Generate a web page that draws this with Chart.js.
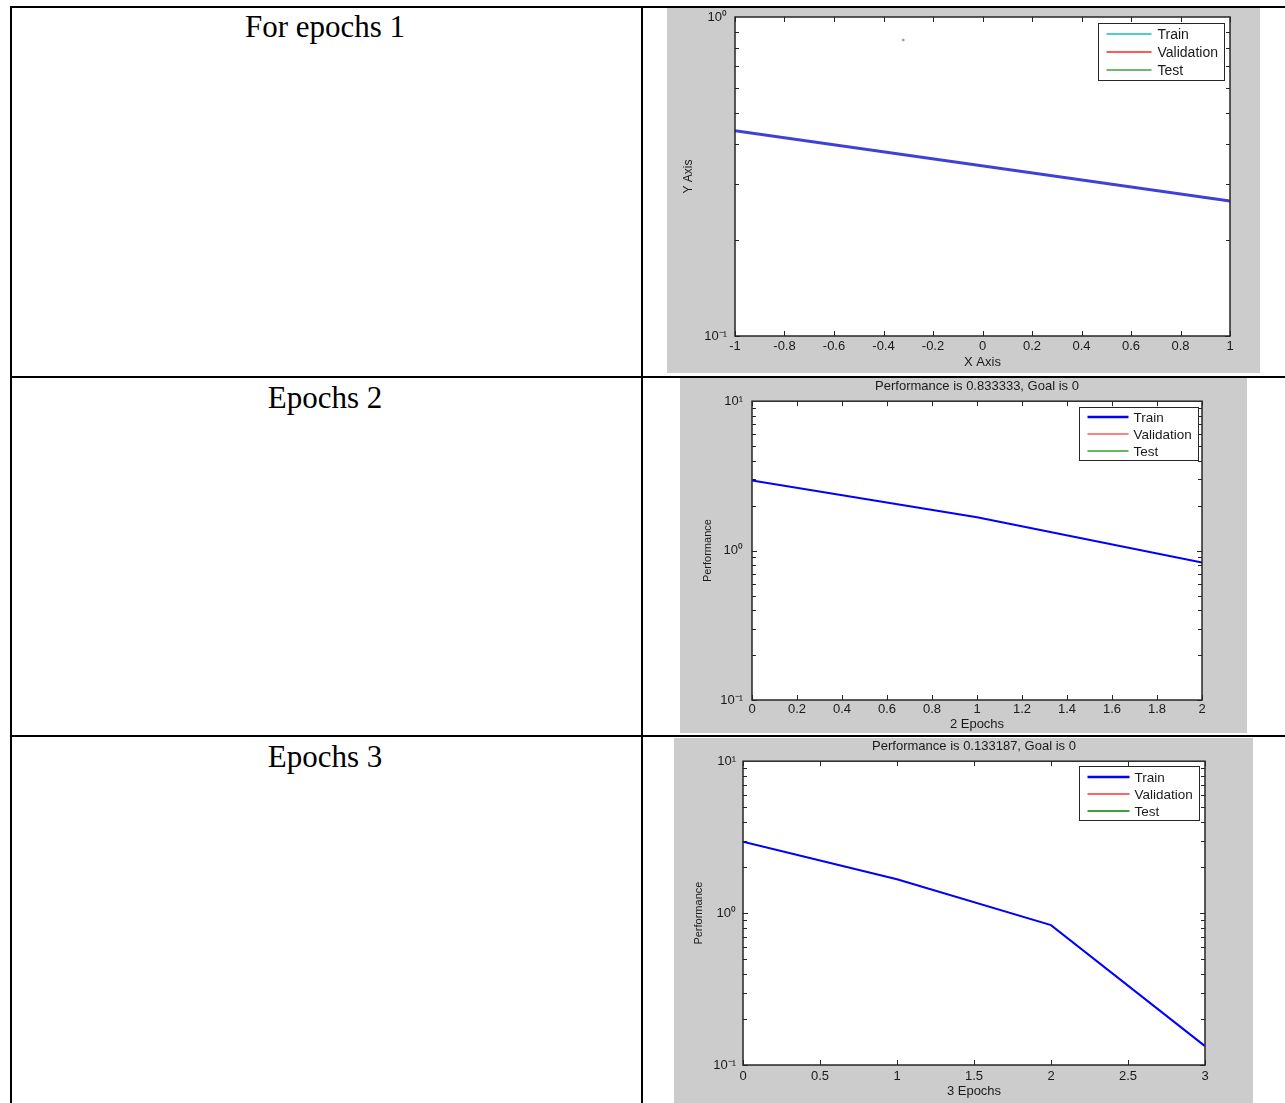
<!DOCTYPE html>
<html>
<head>
<meta charset="utf-8">
<title>Epochs</title>
<script src="https://cdn.jsdelivr.net/npm/chart.js@4.4.1/dist/chart.umd.min.js"></script>
<style>
  body { margin: 0; background: #fff; }
  #page { position: relative; width: 1285px; height: 1103px; overflow: hidden; background: #fff; }
  .rule { position: absolute; background: #000; }
  .cellText {
    position: absolute; left: 12px; width: 626px; text-align: center;
    font-family: "Liberation Serif", "Times New Roman", serif;
    font-size: 31px; line-height: 31px; color: #000;
  }
  canvas { position: absolute; background: #cccccc; }
</style>
</head>
<body>
<div id="page">
  <div class="rule" style="left:10px; top:6px; width:1275px; height:2px;"></div>
  <div class="rule" style="left:10px; top:376px; width:1275px; height:2px;"></div>
  <div class="rule" style="left:10px; top:735px; width:1275px; height:2px;"></div>
  <div class="rule" style="left:10px; top:6px; width:2px; height:1097px;"></div>
  <div class="rule" style="left:641px; top:6px; width:2px; height:1097px;"></div>

  <div class="cellText" style="top:11px;">For epochs 1</div>
  <div class="cellText" style="top:382px;">Epochs 2</div>
  <div class="cellText" style="top:741px;">Epochs 3</div>

  <canvas id="graficoEpochs1" width="593" height="365" style="left:667px; top:8px;"></canvas>
  <canvas id="graficoEpochs2" width="567" height="355" style="left:680px; top:378px;"></canvas>
  <canvas id="graficoEpochs3" width="579" height="365" style="left:674px; top:738px;"></canvas>
</div>

<script>
// values
const epochs1X = [-1, 1];
const output1Y = [0.44, 0.265];
const stray1X = [-0.32];
const stray1Y = [0.847];

const epochs2X = [0, 1, 2];
const train2Y = [2.95, 1.67, 0.833333];

const epochs3X = [0, 1, 2, 3];
const train3Y = [2.95, 1.67, 0.833333, 0.133187];

const legendLabels = ['Train', 'Validation', 'Test'];
const decades1 = [0.1, 1];
const decades23 = [0.1, 1, 10];

Chart.defaults.font.family = '"Liberation Sans", Arial, sans-serif';
Chart.defaults.color = '#1a1a1a';

const pts = (xs, ys) => xs.map((x, i) => ({ x: x, y: ys[i] }));

const sup = { '-': '\u207B', '0': '\u2070', '1': '\u00B9' };
const decadeLabel = (v) => '10' + String(Math.round(Math.log10(v))).split('').map(c => sup[c]).join('');
const plainLabel = (v) => String(parseFloat(Number(v).toFixed(2)));

// white axes box, inward ticks, frame
const matlabAxes = {
    id: 'matlabAxes',
    beforeDraw(chart) {
        const { ctx, chartArea: a } = chart;
        ctx.save();
        ctx.fillStyle = '#fff';
        ctx.fillRect(a.left, a.top, a.right - a.left, a.bottom - a.top);
        ctx.restore();
    },
    beforeDatasetsDraw(chart) {
        const { ctx, chartArea: a, scales } = chart;
        const x = scales.x, y = scales.y;
        ctx.save();
        ctx.strokeStyle = '#262626';
        ctx.lineWidth = 1;
        ctx.beginPath();
        x.ticks.forEach(t => {
            const px = Math.round(x.getPixelForValue(t.value)) + 0.5;
            ctx.moveTo(px, a.bottom); ctx.lineTo(px, a.bottom - 5);
            ctx.moveTo(px, a.top); ctx.lineTo(px, a.top + 5);
        });
        for (let d = y.min; d < y.max * 0.999; d *= 10) {
            for (let k = 1; k <= 9; k++) {
                const py = Math.round(y.getPixelForValue(d * k)) + 0.5;
                const len = k === 1 ? 5 : 4;
                ctx.moveTo(a.left, py); ctx.lineTo(a.left + len, py);
                ctx.moveTo(a.right, py); ctx.lineTo(a.right - len, py);
            }
        }
        ctx.stroke();
        ctx.restore();
    },
    afterDatasetsDraw(chart) {
        const { ctx, chartArea: a } = chart;
        ctx.save();
        ctx.strokeStyle = '#262626';
        ctx.lineWidth = 1.5;
        ctx.strokeRect(a.left, a.top, a.right - a.left, a.bottom - a.top);
        ctx.restore();
    }
};

// boxed legend inside the axes, top right
const matlabLegend = {
    id: 'matlabLegend',
    afterDatasetsDraw(chart, args, o) {
        const { ctx, chartArea: a } = chart;
        const items = chart.data.datasets.filter(ds => ds.inLegend);
        ctx.save();
        ctx.font = o.fontSize + 'px "Liberation Sans", Arial, sans-serif';
        const tw = Math.max(...items.map(ds => ctx.measureText(ds.label).width));
        const w = Math.round(8 + o.lineLen + o.gap + tw + 7);
        const h = o.height;
        const x0 = Math.round(a.right - o.right - w) + 0.5;
        const y0 = Math.round(a.top + o.top) + 0.5;
        ctx.fillStyle = '#fff';
        ctx.fillRect(x0, y0, w, h);
        ctx.strokeStyle = '#262626';
        ctx.lineWidth = 1;
        ctx.strokeRect(x0, y0, w, h);
        const pad = (h - items.length * o.rowH) / 2;
        items.forEach((ds, i) => {
            const cy = Math.round(y0 + pad + o.rowH * (i + 0.5));
            ctx.strokeStyle = ds.legendColor;
            ctx.lineWidth = ds.legendWidth;
            ctx.beginPath();
            ctx.moveTo(x0 + 8, cy);
            ctx.lineTo(x0 + 8 + o.lineLen, cy);
            ctx.stroke();
            ctx.fillStyle = '#1a1a1a';
            ctx.textBaseline = 'middle';
            ctx.fillText(ds.label, x0 + 8 + o.lineLen + o.gap, cy + 1);
        });
        ctx.restore();
    }
};

const legendSets = (colors, widths) => legendLabels.map((label, i) => ({
    label: label,
    data: [],
    borderColor: colors[i],
    legendColor: colors[i],
    legendWidth: widths[i],
    pointRadius: 0,
    inLegend: true
}));

const axisStyle = { grid: { display: false, drawTicks: false }, border: { display: false } };

// keep the plot box where it is, label overhang goes into the grey margin
const fixHeight = (h) => (s) => { s.height = h; s.paddingLeft = 0; s.paddingRight = 0; };
const fixWidth = (w) => (s) => { s.width = w; s.paddingTop = 0; s.paddingBottom = 0; };


const ctx1 = document.getElementById('graficoEpochs1').getContext('2d');

const graficoEpochs1 = new Chart(ctx1, {
    type: 'line',
    data: {
        datasets: [
            {
                label: 'Output',
                data: pts(epochs1X, output1Y),
                borderColor: 'rgb(64, 64, 216)',
                borderWidth: 3,
                pointRadius: 0,
                inLegend: false
            },
            {
                label: 'Point',
                data: pts(stray1X, stray1Y),
                showLine: false,
                pointRadius: 1.3,
                pointBorderWidth: 0,
                pointBackgroundColor: '#8c8cf0',
                inLegend: false
            },
            ...legendSets(['#10c0c0', '#ff2020', '#40a040'], [1.5, 1.5, 1.5])
        ]
    },
    options: {
        responsive: false,
        animation: false,
        layout: { padding: { top: 9, right: 30, left: 0, bottom: 0 } },
        plugins: {
            legend: { display: false },
            tooltip: { enabled: false },
            matlabLegend: { right: 6, top: 6, height: 57, rowH: 18, lineLen: 45, gap: 6, fontSize: 14 }
        },
        scales: {
            x: {
                type: 'linear', min: -1, max: 1,
                ...axisStyle,
                ticks: { stepSize: 0.2, padding: 3, maxRotation: 0, autoSkip: false, font: { size: 13 }, callback: plainLabel },
                title: { display: true, text: 'X Axis', font: { size: 13 }, padding: { top: 0, bottom: 3 } },
                afterFit: fixHeight(37)
            },
            y: {
                type: 'logarithmic', min: 0.1, max: 1,
                ...axisStyle,
                afterBuildTicks: (s) => { s.ticks = decades1.map(v => ({ value: v })); },
                ticks: { padding: 8, font: { size: 13 }, callback: (v) => decadeLabel(v) },
                title: { display: true, text: 'Y Axis', font: { size: 12 }, padding: { top: 14, bottom: 0 } },
                afterFit: fixWidth(68)
            }
        }
    },
    plugins: [matlabAxes, matlabLegend]
});


const ctx2 = document.getElementById('graficoEpochs2').getContext('2d');

const graficoEpochs2 = new Chart(ctx2, {
    type: 'line',
    data: {
        datasets: [
            {
                label: 'Train',
                data: pts(epochs2X, train2Y),
                borderColor: '#0000ff',
                borderWidth: 2,
                pointRadius: 0,
                inLegend: false
            },
            ...legendSets(['#0000ff', '#ff8080', '#30a030'], [2.5, 2, 1.5])
        ]
    },
    options: {
        responsive: false,
        animation: false,
        layout: { padding: { top: 0, right: 45, left: 0, bottom: 0 } },
        plugins: {
            legend: { display: false },
            tooltip: { enabled: false },
            title: {
                display: true, fullSize: false,
                text: 'Performance is 0.833333, Goal is 0',
                font: { size: 13, weight: 'normal' }, color: '#1a1a1a',
                padding: { top: 1, bottom: 6.6 }
            },
            matlabLegend: { right: 4, top: 6, height: 53, rowH: 17, lineLen: 41, gap: 5, fontSize: 13.5 }
        },
        scales: {
            x: {
                type: 'linear', min: 0, max: 2,
                ...axisStyle,
                ticks: { stepSize: 0.2, padding: 2, maxRotation: 0, autoSkip: false, font: { size: 13 }, callback: plainLabel },
                title: { display: true, text: '2 Epochs', font: { size: 13 }, padding: { top: 0, bottom: 1 } },
                afterFit: fixHeight(33)
            },
            y: {
                type: 'logarithmic', min: 0.1, max: 10,
                ...axisStyle,
                afterBuildTicks: (s) => { s.ticks = decades23.map(v => ({ value: v })); },
                ticks: { padding: 9, font: { size: 13 }, callback: (v) => decadeLabel(v) },
                title: { display: true, text: 'Performance', font: { size: 11 }, padding: { top: 21, bottom: 0 } },
                afterFit: fixWidth(72)
            }
        }
    },
    plugins: [matlabAxes, matlabLegend]
});


const ctx3 = document.getElementById('graficoEpochs3').getContext('2d');

const graficoEpochs3 = new Chart(ctx3, {
    type: 'line',
    data: {
        datasets: [
            {
                label: 'Train',
                data: pts(epochs3X, train3Y),
                borderColor: '#0000ff',
                borderWidth: 2,
                pointRadius: 0,
                inLegend: false
            },
            ...legendSets(['#0000ff', '#ff3030', '#008000'], [2.5, 1.5, 1.5])
        ]
    },
    options: {
        responsive: false,
        animation: false,
        layout: { padding: { top: 0, right: 48, left: 0, bottom: 0 } },
        plugins: {
            legend: { display: false },
            tooltip: { enabled: false },
            title: {
                display: true, fullSize: false,
                text: 'Performance is 0.133187, Goal is 0',
                font: { size: 13, weight: 'normal' }, color: '#1a1a1a',
                padding: { top: 1, bottom: 6.6 }
            },
            matlabLegend: { right: 6, top: 5, height: 54, rowH: 17, lineLen: 42, gap: 5, fontSize: 13.5 }
        },
        scales: {
            x: {
                type: 'linear', min: 0, max: 3,
                ...axisStyle,
                ticks: { stepSize: 0.5, padding: 4, maxRotation: 0, autoSkip: false, font: { size: 13 }, callback: plainLabel },
                title: { display: true, text: '3 Epochs', font: { size: 13 }, padding: { top: 0, bottom: 4 } },
                afterFit: fixHeight(38)
            },
            y: {
                type: 'logarithmic', min: 0.1, max: 10,
                ...axisStyle,
                afterBuildTicks: (s) => { s.ticks = decades23.map(v => ({ value: v })); },
                ticks: { padding: 7, font: { size: 13 }, callback: (v) => decadeLabel(v) },
                title: { display: true, text: 'Performance', font: { size: 11 }, padding: { top: 18, bottom: 0 } },
                afterFit: fixWidth(69)
            }
        }
    },
    plugins: [matlabAxes, matlabLegend]
});
</script>
</body>
</html>
